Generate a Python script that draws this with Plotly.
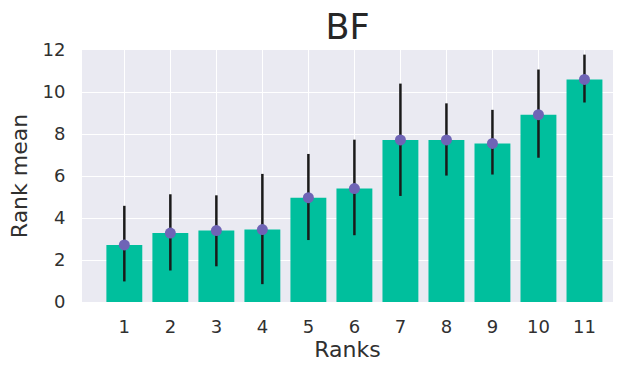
import plotly.graph_objects as go

# Mean rank per position with its spread
ranks = [1, 2, 3, 4, 5, 6, 7, 8, 9, 10, 11]
rank_mean = [2.72, 3.28, 3.40, 3.45, 4.97, 5.40, 7.72, 7.72, 7.55, 8.92, 10.60]
err_upper = [4.58, 5.13, 5.08, 6.10, 7.05, 7.73, 10.40, 9.46, 9.15, 11.07, 11.78]
err_lower = [0.98, 1.50, 1.70, 0.85, 2.95, 3.18, 5.05, 6.02, 6.07, 6.87, 9.50]

plus = [u - m for u, m in zip(err_upper, rank_mean)]
minus = [m - l for m, l in zip(rank_mean, err_lower)]

fig = go.Figure()
fig.add_trace(go.Bar(
    x=ranks, y=rank_mean, width=0.78,
    marker=dict(color="#00BF9D", line=dict(width=0)),
    hoverinfo="skip",
))
fig.add_trace(go.Scatter(
    x=ranks, y=rank_mean, mode="markers",
    marker=dict(color="#6F64B6", size=11),
    error_y=dict(type="data", symmetric=False, array=plus, arrayminus=minus,
                 color="#1a1a1a", thickness=2.5, width=0),
))

fig.update_layout(
    width=623, height=365,
    margin=dict(l=82, r=10, t=50, b=63),
    paper_bgcolor="white", plot_bgcolor="#EAEAF2",
    showlegend=False,
    font=dict(family="DejaVu Sans", color="#303030", size=18),
    title=dict(text="BF", x=0.558, xanchor="center", y=0.928, yanchor="middle",
               font=dict(size=35, color="#262626")),
    bargap=0.2,
)
fig.update_xaxes(
    range=[0.08, 11.62], tickmode="array", tickvals=ranks,
    showgrid=True, gridcolor="white", gridwidth=1.3, zeroline=False,
    ticks="outside", ticklen=8, tickcolor="rgba(0,0,0,0)",
    title=dict(text="Ranks", font=dict(size=22), standoff=6),
    showline=False, automargin=False,
)
fig.update_yaxes(
    range=[0, 12], tickvals=[0, 2, 4, 6, 8, 10, 12],
    showgrid=True, gridcolor="white", gridwidth=1.3, zeroline=False,
    ticks="outside", ticklen=12, tickcolor="rgba(0,0,0,0)",
    title=dict(text="Rank mean", font=dict(size=22), standoff=8),
    showline=False, automargin=False,
)

fig.write_html("out.html")
